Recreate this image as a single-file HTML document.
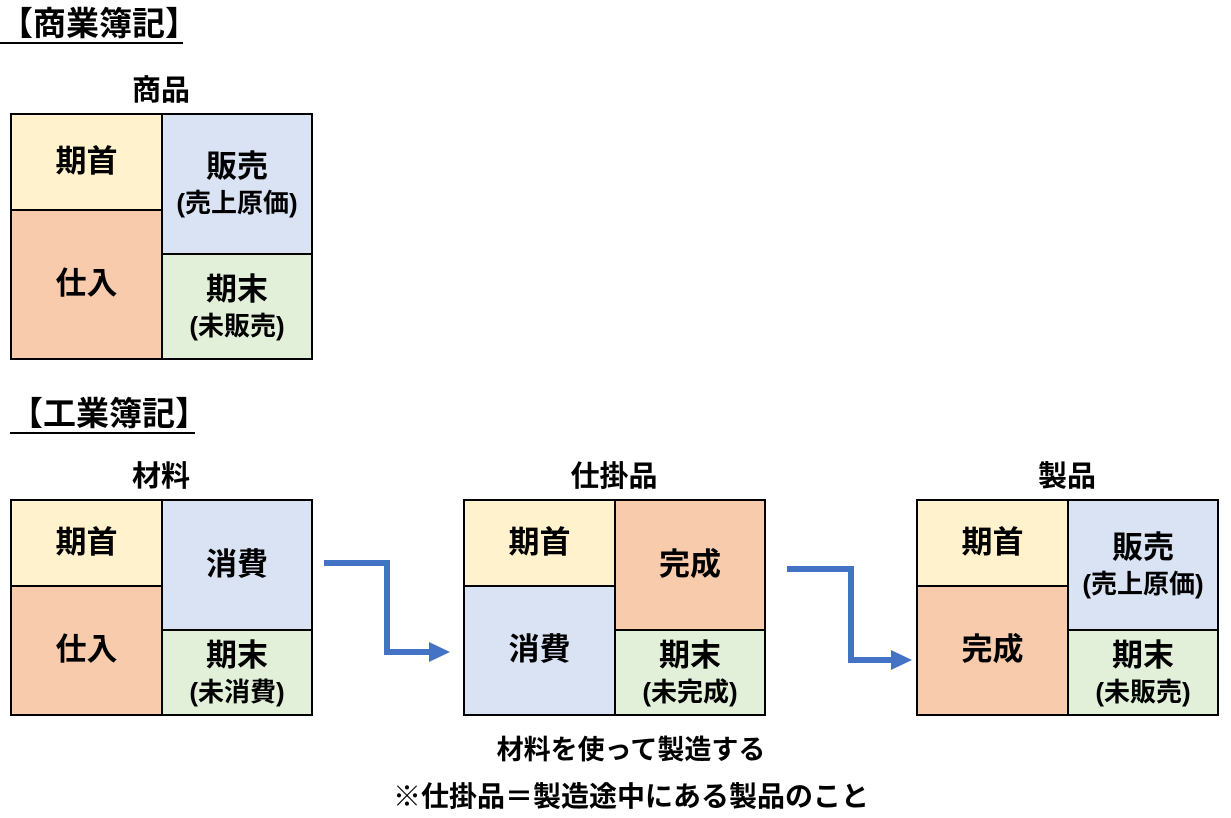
<!DOCTYPE html>
<html><head><meta charset="utf-8"><style>
body{margin:0;width:1231px;height:818px;background:#fff;position:relative;overflow:hidden;font-family:"Liberation Sans","Noto Sans CJK JP",sans-serif;font-weight:bold;color:#000}
.a{position:absolute}
.c{position:absolute;display:flex;flex-direction:column;align-items:center;justify-content:center;box-sizing:border-box;border:2px solid #000;font-size:31px;line-height:1.25}
.c small{font-size:26px}
.t{position:absolute;font-size:29px;text-align:center;width:302px;line-height:34px}
.y{background:#FFF2CC}.o{background:#F8CBAD}.b{background:#DAE3F3}.g{background:#E2F0D9}
</style></head><body>
<div class="a" style="left:0;top:5px;font-size:33px;border-bottom:2px solid #000;line-height:37px;width:183px;white-space:nowrap">【商業簿記】</div>
<div class="t" style="left:10px;top:74px">商品</div>
<div class="c y" style="left:10px;top:113px;width:153px;height:98px">期首</div>
<div class="c o" style="left:10px;top:209px;width:153px;height:151px">仕入</div>
<div class="c b" style="left:161px;top:113px;width:152px;height:142px">販売<small>(売上原価)</small></div>
<div class="c g" style="left:161px;top:253px;width:152px;height:107px">期末<small>(未販売)</small></div>

<div class="a" style="left:10px;top:395px;font-size:33px;border-bottom:2px solid #000;line-height:37px;width:185px;white-space:nowrap">【工業簿記】</div>

<div class="t" style="left:10px;top:460px">材料</div>
<div class="c y" style="left:10px;top:499px;width:153px;height:88px">期首</div>
<div class="c o" style="left:10px;top:585px;width:153px;height:131px">仕入</div>
<div class="c b" style="left:161px;top:499px;width:152px;height:132px">消費</div>
<div class="c g" style="left:161px;top:629px;width:152px;height:87px">期末<small>(未消費)</small></div>

<div class="t" style="left:463px;top:460px">仕掛品</div>
<div class="c y" style="left:463px;top:499px;width:153px;height:88px">期首</div>
<div class="c b" style="left:463px;top:585px;width:153px;height:131px">消費</div>
<div class="c o" style="left:614px;top:499px;width:152px;height:132px">完成</div>
<div class="c g" style="left:614px;top:629px;width:152px;height:87px">期末<small>(未完成)</small></div>

<div class="t" style="left:916px;top:460px">製品</div>
<div class="c y" style="left:916px;top:499px;width:153px;height:88px">期首</div>
<div class="c o" style="left:916px;top:585px;width:153px;height:131px">完成</div>
<div class="c b" style="left:1067px;top:499px;width:152px;height:132px">販売<small>(売上原価)</small></div>
<div class="c g" style="left:1067px;top:629px;width:152px;height:87px">期末<small>(未販売)</small></div>

<svg class="a" style="left:0;top:0" width="1231" height="818">
<polyline points="324,563 387,563 387,652 432,652" fill="none" stroke="#4472C4" stroke-width="6"/>
<polygon points="429,642 450,652 429,662" fill="#4472C4"/>
<polyline points="787,569 851,569 851,660 894,660" fill="none" stroke="#4472C4" stroke-width="6"/>
<polygon points="891,650 912,660 891,670" fill="#4472C4"/>
</svg>

<div class="a" style="left:0;width:1262px;text-align:center;top:732px;font-size:27px;line-height:36px">材料を使って製造する</div>
<div class="a" style="left:0;width:1262px;text-align:center;top:779px;font-size:28px;line-height:36px">※仕掛品＝製造途中にある製品のこと</div>
</body></html>
